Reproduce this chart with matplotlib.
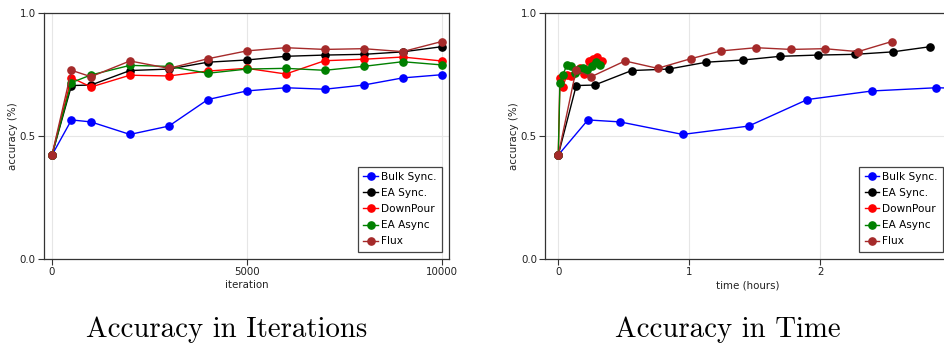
import matplotlib
matplotlib.use("Agg")
import matplotlib.pyplot as plt

# ---------------- data ----------------
labels = ["Bulk Sync.", "EA Sync.", "DownPour", "EA Async", "Flux"]
colors = ["#0000ff", "#000000", "#ff0000", "#008000", "#a52a2a"]

iterations = [0, 500, 1000, 2000, 3000, 4000, 5000, 6000, 7000, 8000, 9000, 10000]

acc_bulk = [0.423, 0.566, 0.558, 0.507, 0.541, 0.649, 0.684, 0.697, 0.691, 0.708, 0.737, 0.750]
acc_easync = [0.423, 0.706, 0.708, 0.767, 0.773, 0.801, 0.810, 0.825, 0.830, 0.833, 0.843, 0.864]
acc_downpour = [0.423, 0.738, 0.700, 0.748, 0.745, 0.765, 0.776, 0.753, 0.807, 0.813, 0.822, 0.806]
acc_eaasync = [0.423, 0.718, 0.749, 0.788, 0.784, 0.756, 0.773, 0.776, 0.768, 0.784, 0.803, 0.790]
acc_flux = [0.423, 0.768, 0.742, 0.806, 0.776, 0.815, 0.847, 0.860, 0.853, 0.856, 0.844, 0.885]

# time (hours) at which each evaluation was reached
time_bulk = [0, 0.226, 0.471, 0.949, 1.453, 1.901, 2.397, 2.885, 3.37]
time_easync = [0, 0.137, 0.277, 0.560, 0.842, 1.130, 1.412, 1.695, 1.980, 2.265, 2.552, 2.837]
time_downpour = [0, 0.013, 0.033, 0.066, 0.099, 0.132, 0.165, 0.198, 0.231, 0.264, 0.297, 0.330]
time_eaasync = [0, 0.013, 0.033, 0.066, 0.097, 0.127, 0.158, 0.191, 0.221, 0.254, 0.288, 0.318]
time_flux = [0, 0.135, 0.252, 0.509, 0.758, 1.010, 1.244, 1.509, 1.776, 2.033, 2.288, 2.545]

acc_series = [acc_bulk, acc_easync, acc_downpour, acc_eaasync, acc_flux]
time_series = [time_bulk, time_easync, time_downpour, time_eaasync, time_flux]

titles = ["Accuracy in Iterations", "Accuracy in Time"]

# ---------------- figure ----------------
W, H = 944, 343
fig = plt.figure(figsize=(W / 100, H / 100), dpi=100)

spine_c = "#333333"
tick_fs = 7.4


def style(ax):
    for s in ax.spines.values():
        s.set_color(spine_c)
        s.set_linewidth(0.9)
    ax.tick_params(direction="out", length=4, width=0.8, color=spine_c,
                   labelsize=tick_fs, labelcolor="#222222", pad=2)
    ax.grid(True, color="#e6e6e6", linewidth=0.8)
    ax.set_axisbelow(True)
    ax.set_ylim(0, 1.0)
    ax.set_yticks([0.0, 0.5, 1.0])
    ax.set_ylabel("accuracy (%)", fontsize=tick_fs, color="#222222", labelpad=1)


def legend(ax):
    lg = ax.legend(loc="lower right", fontsize=7.6, frameon=True, fancybox=False,
                   edgecolor="#444444", framealpha=1, borderaxespad=0.7,
                   handlelength=1.35, handletextpad=0.3, labelspacing=0.58,
                   borderpad=0.5)
    lg.get_frame().set_linewidth(0.9)


ax_h = 245.7 / H
ax_w = 405 / W
ax_b = (H - 259) / H

ax1 = fig.add_axes([44 / W, ax_b, ax_w, ax_h])
for y, lab, c in zip(acc_series, labels, colors):
    ax1.plot(iterations, y, "-o", color=c, label=lab, lw=1.0, ms=5.2)
ax1.set_xlim(-205, 10190)
ax1.set_xticks([0, 5000, 10000])
ax1.set_xlabel("iteration", fontsize=tick_fs, color="#222222", labelpad=2)
style(ax1)
legend(ax1)

ax2 = fig.add_axes([545.3 / W, ax_b, ax_w, ax_h])
for t, y, lab, c in zip(time_series, acc_series, labels, colors):
    ax2.plot(t, y[:len(t)], "-o", color=c, label=lab, lw=1.0, ms=5.2)
ax2.set_xlim(-0.099, 2.992)
ax2.set_xticks([0, 1, 2])
ax2.set_xlabel("time (hours)", fontsize=tick_fs, color="#222222", labelpad=2)
style(ax2)
legend(ax2)

fig.text(227 / W, 6 / H, titles[0], family="cmr10", fontsize=20.8,
         ha="center", va="baseline")
fig.text(728 / W, 6 / H, titles[1], family="cmr10", fontsize=20.8,
         ha="center", va="baseline")

fig.savefig("out.png", dpi=100)
